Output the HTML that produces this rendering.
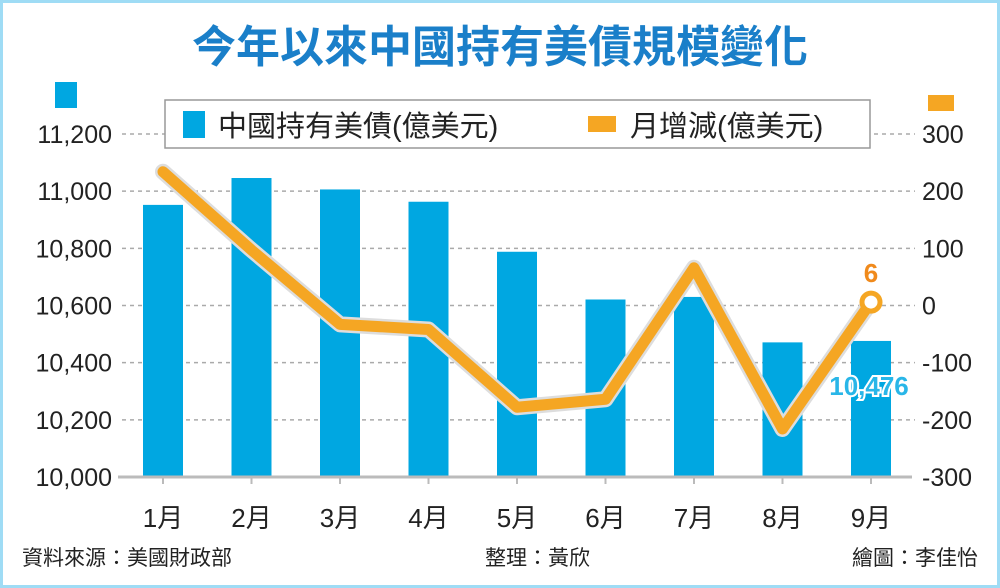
<!DOCTYPE html>
<html><head><meta charset="utf-8"><style>
html,body{margin:0;padding:0;}
body{width:1000px;height:588px;overflow:hidden;background:#fff;font-family:"Liberation Sans","Noto Sans CJK TC",sans-serif;}
#frame{position:absolute;left:0;top:0;width:994px;height:582px;border:3px solid #9fdcf5;}
</style></head><body>
<div id="frame"></div>
<svg id="chart" width="1000" height="588" style="position:absolute;left:0;top:0">
<text x="500" y="62" text-anchor="middle" font-size="44" font-weight="bold" fill="#1a7fc9" font-family="Liberation Sans,Noto Sans CJK TC,sans-serif">今年以來中國持有美債規模變化</text>
<rect x="55" y="82" width="22" height="26" fill="#00a7e1"/>
<rect x="928" y="95" width="26" height="16" fill="#f5a623"/>
<g id="grid"></g>
<g id="bars"></g>
<g id="line"></g>
<g id="axes"></g>
<g>
<rect x="165" y="100" width="705" height="48" fill="#fff" stroke="#999" stroke-width="1.5"/>
<rect x="183" y="111" width="22" height="27" fill="#00a7e1"/>
<text x="218" y="136" font-size="29" fill="#222">中國持有美債(億美元)</text>
<rect x="588" y="116" width="28" height="16" fill="#f5a623"/>
<text x="630" y="136" font-size="29" fill="#222">月增減(億美元)</text>
</g>
<text x="22" y="565" font-size="21" fill="#222">資料來源：美國財政部</text>
<text x="485" y="565" font-size="21" fill="#222">整理：黃欣</text>
<text x="978" y="565" font-size="21" fill="#222" text-anchor="end">繪圖：李佳怡</text>
</svg>
<script>
const categories=["1月","2月","3月","4月","5月","6月","7月","8月","9月"];
const holdings=[10952,11046,11006,10963,10788,10621,10630,10471,10476];
const changes=[234,97,-33,-42,-178,-164,66,-216,6];
const leftTicks=[10000,10200,10400,10600,10800,11000,11200];
const rightTicks=[-300,-200,-100,0,100,200,300];
const NS="http://www.w3.org/2000/svg";
const yTop=134,yBot=477;
function yL(v){return yBot-(v-10000)/1200*(yBot-yTop);}
function yR(v){return yBot-(v+300)/600*(yBot-yTop);}
function xC(i){return 163+i*88.5;}
function mk(tag,attrs,parent){const e=document.createElementNS(NS,tag);for(const k in attrs)e.setAttribute(k,attrs[k]);document.getElementById(parent).appendChild(e);return e;}
leftTicks.forEach((t,i)=>{
 const y=yL(t);
 if(i>0){const g=mk("line",{x1:122,x2:915,y1:y,y2:y,stroke:"#aaa","stroke-width":1.5,"stroke-dasharray":"4,4"},"grid");
 
 }
 const tx=mk("text",{x:112,y:y+9,"text-anchor":"end","font-size":25,fill:"#222"},"axes");
 tx.textContent=t.toLocaleString("en-US");
 
 
});
rightTicks.forEach(t=>{
 const tx=mk("text",{x:922,y:yR(t)+9,"font-size":25,fill:"#222"},"axes");
 tx.textContent=t;
 
 
});
const base=mk("line",{x1:118,x2:912,y1:yBot,y2:yBot,stroke:"#bbb","stroke-width":3},"axes");


categories.forEach((c,i)=>{
 const b=mk("rect",{x:xC(i)-20,y:yL(holdings[i]),width:40,height:yBot-yL(holdings[i]),fill:"#00a7e1"},"bars");
 
 
 const tk=mk("line",{x1:xC(i),x2:xC(i),y1:yBot,y2:yBot+7,stroke:"#bbb","stroke-width":2},"axes");
 
 
 const tx=mk("text",{x:xC(i),y:527,"text-anchor":"middle","font-size":26,fill:"#222"},"axes");
 tx.textContent=c;
 
 
});
const pts=changes.map((v,i)=>xC(i)+","+yR(v)).join(" ");
const sh=mk("polyline",{points:pts,fill:"none",stroke:"#ddd","stroke-width":16,"stroke-linejoin":"round","stroke-linecap":"round"},"line");


const pl=mk("polyline",{points:pts,fill:"none",stroke:"#f5a623","stroke-width":11,"stroke-linejoin":"round","stroke-linecap":"round"},"line");


const n=changes.length-1;
const c=mk("circle",{cx:xC(n),cy:yR(changes[n]),r:9,fill:"#fff",stroke:"#f5a623","stroke-width":5},"line");


const lv=mk("text",{x:xC(n),y:yR(changes[n])-20,"text-anchor":"middle","font-size":26,"font-weight":"bold",fill:"#f08a1c"},"line");
lv.textContent=changes[n];


const hv=mk("text",{x:xC(n)-2,y:yL(holdings[n])+54,"text-anchor":"middle","font-size":26,"font-weight":"bold",fill:"#29b6e8",stroke:"#fff","stroke-width":4,"paint-order":"stroke"},"line");
hv.textContent=holdings[n].toLocaleString("en-US");


</script>
</body></html>
